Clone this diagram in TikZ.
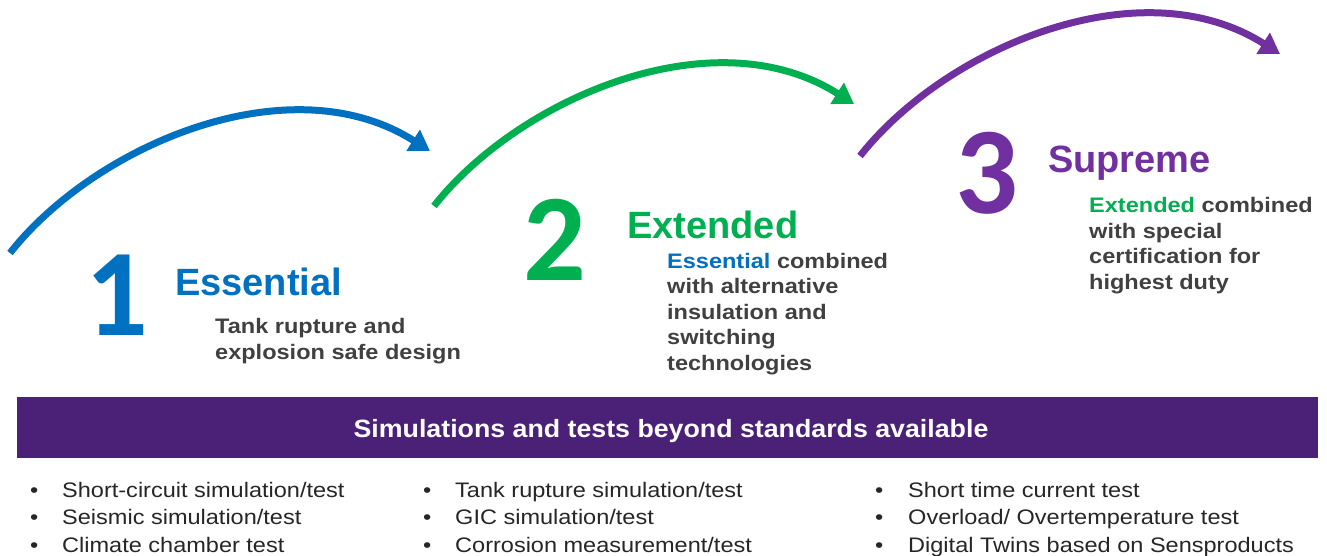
\documentclass[tikz,border=0pt]{standalone}
\usepackage{fontspec}
\setmainfont{Liberation Sans}
\newfontfamily\numfont{Carlito}
\newfontfamily\bodyfont[FakeStretch=1.12]{Liberation Sans}
\newfontfamily\bannerfont[FakeStretch=1.07]{Liberation Sans}
\usetikzlibrary{arrows.meta}
\definecolor{cblue}{HTML}{0070C0}
\definecolor{cgreen}{HTML}{00B050}
\definecolor{cpurple}{HTML}{7030A0}
\definecolor{cbanner}{HTML}{4B2178}
\definecolor{cgray}{HTML}{404040}
\definecolor{ctext}{HTML}{262626}
\tikzset{
  bignum/.style={font=\numfont\bfseries\fontsize{124}{124}\selectfont, inner sep=0pt, anchor=base},
  ttl/.style={font=\bfseries\fontsize{38}{38}\selectfont, inner sep=0pt, anchor=base west},
  desc/.style={font=\bodyfont\bfseries\fontsize{21}{21}\selectfont, text=cgray, inner sep=0pt, anchor=base west},
  item/.style={font=\bodyfont\fontsize{21}{21}\selectfont, text=ctext, inner sep=0pt, anchor=base west},
  arcarrow/.style={line width=7pt, -{Triangle[length=20pt,width=24pt]}},
  banner/.style={fill=cbanner, draw=none},
  bantext/.style={font=\bannerfont\bfseries\fontsize{25}{25}\selectfont, text=white, inner sep=0pt, anchor=base}
}
\begin{document}
\begin{tikzpicture}[x=1pt,y=-1pt]
\useasboundingbox (0,0) rectangle (1327,556);
% arcs
\coordinate (s1) at (10,253);  \coordinate (e1) at (430,151);
\coordinate (s2) at (434,206); \coordinate (e2) at (854,104);
\coordinate (s3) at (860,156); \coordinate (e3) at (1280,54);
\draw[arcarrow, cblue] (s1) .. controls (95,145) and (290,62) .. (e1);
\draw[arcarrow, cgreen] (s2) .. controls (519,98) and (714,15) .. (e2);
\draw[arcarrow, cpurple] (s3) .. controls (945,48) and (1140,-35) .. (e3);
% stage 1
\node[bignum, text=cblue] (n1) at (117,335) {1};
\node[ttl, text=cblue] (t1) at (175,295) {Essential};
\node[desc] (d1a) at (215,333) {Tank rupture and};
\node[desc] (d1b) at (215,359) {explosion safe design};
% stage 2
\node[bignum, text=cgreen] (n2) at (555,280) {2};
\node[ttl, text=cgreen] (t2) at (627,238) {Extended};
\node[desc] (d2a) at (667,268) {{\color{cblue}Essential} combined};
\node[desc] (d2b) at (667,293.5) {with alternative};
\node[desc] (d2c) at (667,319) {insulation and};
\node[desc] (d2d) at (667,344.5) {switching};
\node[desc] (d2e) at (667,370) {technologies};
% stage 3
\node[bignum, text=cpurple] (n3) at (987,213) {3};
\node[ttl, text=cpurple] (t3) at (1048,173) {Supreme};
\node[desc] (d3a) at (1089,212) {{\color{cgreen}Extended} combined};
\node[desc] (d3b) at (1089,238) {with special};
\node[desc] (d3c) at (1089,263.5) {certification for};
\node[desc] (d3d) at (1089,289) {highest duty};
% banner
\path[banner] (17,397) rectangle (1318,458);
\node[bantext] (bt) at (671,437) {Simulations and tests beyond standards available};
% bullet lists
\node[item] (b11) at (30,497) {•}; \node[item] (i11) at (62,497) {Short-circuit simulation/test};
\node[item] (b12) at (30,524.5) {•}; \node[item] (i12) at (62,524.5) {Seismic simulation/test};
\node[item] (b13) at (30,552) {•}; \node[item] (i13) at (62,552) {Climate chamber test};
\node[item] (b21) at (423,497) {•}; \node[item] (i21) at (455,497) {Tank rupture simulation/test};
\node[item] (b22) at (423,524.5) {•}; \node[item] (i22) at (455,524.5) {GIC simulation/test};
\node[item] (b23) at (423,552) {•}; \node[item] (i23) at (455,552) {Corrosion measurement/test};
\node[item] (b31) at (875,497) {•}; \node[item] (i31) at (908,497) {Short time current test};
\node[item] (b32) at (875,524.5) {•}; \node[item] (i32) at (908,524.5) {Overload/ Overtemperature test};
\node[item] (b33) at (875,552) {•}; \node[item] (i33) at (908,552) {Digital Twins based on Sensproducts};
\end{tikzpicture}
\end{document}
